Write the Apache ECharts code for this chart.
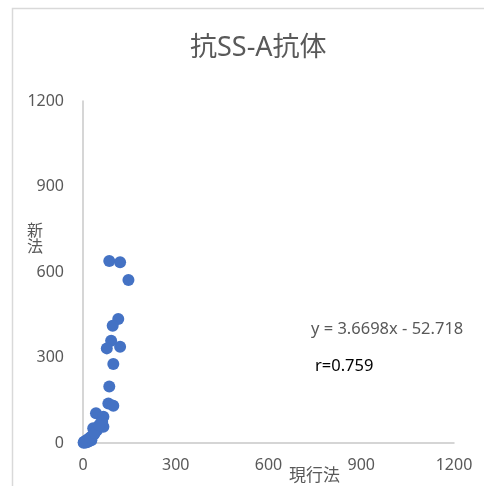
<!DOCTYPE html>
<html><head><meta charset="utf-8">
<script src="https://cdn.jsdelivr.net/npm/echarts@6/dist/echarts.min.js"></script>
<style>html,body{margin:0;padding:0;background:#fff}#c{width:484px;height:486px}</style>
</head><body><div id="c"></div>
<script>
const titleText = '抗SS-A抗体';
const xName = '現行法';
const yName = '新法';
const axisTicks = [0, 300, 600, 900, 1200];
const currentMethod = [85, 120, 147, 114, 96, 91, 77, 120, 98, 85, 82, 98, 42, 66, 33, 66, 58, 50, 45, 40, 35, 30, 27, 25, 20, 18, 15, 12, 10, 8, 5, 3, 2, 22, 38, 62, 52];
const newMethod = [639, 634, 572, 435, 411, 359, 332, 338, 277, 198, 139, 131, 104, 92, 52, 57, 70, 55, 45, 40, 30, 25, 10, 20, 15, 5, 12, 3, 8, 2, 5, 3, 1, 18, 35, 75, 62];
const equationText = 'y = 3.6698x - 52.718';
const rText = 'r=0.759';

const points = currentMethod.map((x, i) => [x, newMethod[i]]);
const font = '"Noto Sans", "Noto Sans CJK JP", sans-serif';
const chart = echarts.init(document.getElementById('c'));
chart.setOption({
  animation: false,
  backgroundColor: '#fff',
  title: { text: titleText, left: 185, top: 30, textStyle: { fontFamily: font, fontSize: 27, fontWeight: 'normal', color: '#595959' } },
  grid: { left: 83, right: 30, top: 101, bottom: 43 },
  xAxis: {
    type: 'value', min: axisTicks[0], max: axisTicks[axisTicks.length - 1], interval: 300,
    axisLine: { show: true, lineStyle: { color: '#c8c8c8', width: 1.5 } },
    axisTick: { show: false }, splitLine: { show: false },
    axisLabel: { margin: 14, color: '#595959', fontSize: 16, fontFamily: font, formatter: v => String(v) }
  },
  yAxis: {
    type: 'value', min: axisTicks[0], max: axisTicks[axisTicks.length - 1], interval: 300,
    axisLine: { show: true, lineStyle: { color: '#c8c8c8', width: 1.5 } },
    axisTick: { show: false }, splitLine: { show: false },
    axisLabel: { margin: 19, color: '#595959', fontSize: 16, fontFamily: font, formatter: v => String(v) }
  },
  graphic: [
    { type: 'rect', shape: { x: 12.5, y: 8.5, width: 600, height: 600 }, style: { fill: 'none', stroke: '#d9d9d9', lineWidth: 1.5 }, z: -1 },
    { type: 'text', left: 27, top: 223, style: { text: yName.split('').join('\n'), fontSize: 16, lineHeight: 16, fill: '#595959', fontFamily: font } },
    { type: 'text', left: 289, top: 468, style: { text: xName, fontSize: 17, fill: '#595959', fontFamily: font } },
    { type: 'text', left: 311, top: 321, style: { text: equationText, fontSize: 16.5, fill: '#595959', fontFamily: font } },
    { type: 'text', left: 315, top: 358, style: { text: rText, fontSize: 16.5, fill: '#000', fontFamily: font } }
  ],
  series: [{
    type: 'scatter', data: points, symbolSize: 12,
    itemStyle: { color: '#4472c4', opacity: 1 }
  }]
});
</script></body></html>
